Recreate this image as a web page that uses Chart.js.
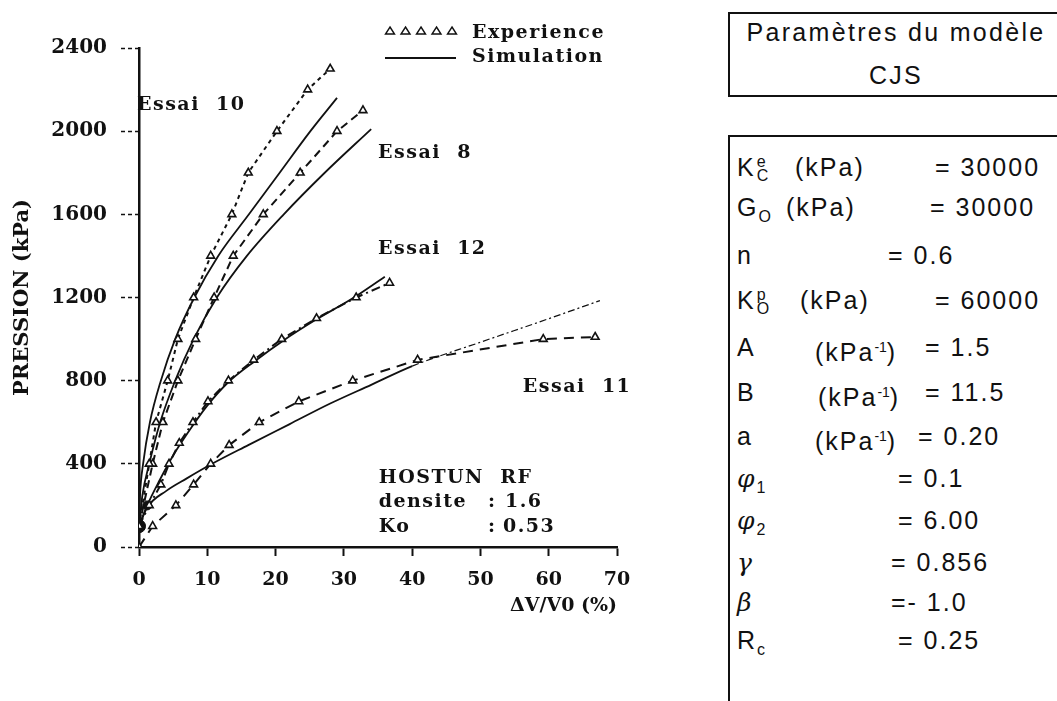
<!DOCTYPE html>
<html>
<head>
<meta charset="utf-8">
<script src="https://cdn.jsdelivr.net/npm/chart.js@4.4.1/dist/chart.umd.min.js"></script>
<style>
  body { margin: 0; background: #fff; width: 1057px; height: 701px; overflow: hidden; position: relative; }
  #wrap { position: absolute; left: 0; top: 0; width: 660px; height: 701px; }
  .box { position: absolute; border: 2px solid #111; font-family: "Liberation Sans", Arial, sans-serif; color: #111; }
  #titleBox { left: 728px; top: 12px; width: 340px; height: 81px; border-right: none; }
  #titleBox div { position: absolute; left: 0; width: 332px; text-align: center; font-size: 25px; letter-spacing: 2.3px; }
  #paramBox { left: 728px; top: 135px; width: 340px; height: 580px; border-right: none; border-bottom: none; }
  .cell { position: absolute; font-size: 25px; letter-spacing: 2px; line-height: 28px; white-space: nowrap; font-family: "Liberation Sans", Arial, sans-serif; color: #111; }
  .ss { display: inline-flex; flex-direction: column; vertical-align: middle; font-size: 16px; line-height: 14px; margin-left: 1px; letter-spacing: 0; }
  sup.u { font-size: 14px; letter-spacing: 0; vertical-align: 9px; }
  sub.g { font-size: 16px; letter-spacing: 0; vertical-align: -6px; }
  .gr { font-family: "DejaVu Serif", serif; font-style: italic; }
</style>
</head>
<body>
<div id="wrap"><canvas id="chart" width="660" height="701"></canvas></div>
<div id="titleBox" class="box">
  <div style="top: 4px;">Paramètres du modèle</div>
  <div style="top: 47px;">CJS</div>
</div>
<div id="paramBox" class="box"></div>
<div id="params"></div>
<script>
// essai 10
const exp10X = [0, 1.5, 2.5, 4.2, 5.7, 8, 10.5, 13.6, 16, 20.2, 24.7, 28];
const exp10Y = [100, 400, 600, 800, 1000, 1200, 1400, 1600, 1800, 2000, 2200, 2300];
const sim10X = [0, 0.15, 0.6, 1.6, 3.2, 5.3, 8.1, 11.6, 16.1, 20.6, 25.1, 29];
const sim10Y = [100, 250, 400, 600, 800, 1000, 1200, 1400, 1600, 1800, 2000, 2160];
// essai 8
const exp8X = [0, 2, 3.5, 5.7, 8.3, 11, 13.8, 18.2, 23.6, 29, 32.8];
const exp8Y = [100, 400, 600, 800, 1000, 1200, 1400, 1600, 1800, 2000, 2100];
const sim8X = [0, 0.5, 1.5, 3.1, 5.3, 8, 11.4, 15.8, 21.2, 27.2, 34];
const sim8Y = [100, 250, 400, 600, 800, 1000, 1200, 1400, 1600, 1800, 2010];
// essai 12
const exp12X = [0, 1.5, 3.2, 4.4, 5.9, 7.9, 10.1, 13.1, 16.8, 20.9, 26, 31.8, 36.7];
const exp12Y = [100, 200, 300, 400, 500, 600, 700, 800, 900, 1000, 1100, 1200, 1270];
const sim12X = [0, 1.2, 3, 5, 8, 10, 13, 17, 21, 26, 31, 36];
const sim12Y = [100, 200, 320, 440, 590, 680, 790, 895, 990, 1095, 1190, 1300];
// essai 11
const exp11X = [0, 2, 5.4, 8, 10.5, 13.2, 17.6, 23.4, 31.3, 40.8, 59.2, 66.8];
const exp11Y = [0, 100, 200, 300, 400, 490, 600, 700, 800, 900, 1000, 1010];
const sim11X = [0, 1.2, 4, 7, 10.7, 16, 22, 28, 34, 40, 50, 60, 67.5];
const sim11Y = [100, 190, 270, 330, 400, 490, 590, 690, 780, 870, 985, 1098, 1185];
// starting state (filled dots)
const startX = [0, 1.2];
const startY = [100, 200];

const xTickValues = [0, 10, 20, 30, 40, 50, 60, 70];
const yTickValues = [0, 400, 800, 1200, 1600, 2000, 2400];

const pts = (xs, ys) => xs.map((v, i) => ({ x: v, y: ys[i] }));

const serif = '"DejaVu Serif", serif';

function expSet(xs, ys, dash) {
  return {
    data: pts(xs, ys), showLine: true, borderColor: '#111', borderWidth: 2,
    borderDash: dash, pointStyle: 'triangle', pointRadius: 4.5,
    pointBackgroundColor: '#fff', pointBorderColor: '#111', pointBorderWidth: 1.6
  };
}
function simSet(xs, ys) {
  return {
    data: pts(xs, ys), showLine: true, borderColor: '#111', borderWidth: 1.8,
    pointRadius: 0, cubicInterpolationMode: 'monotone'
  };
}

const sim11 = simSet(sim11X, sim11Y);
sim11.segment = {
  borderDash: c => c.p0.parsed.x >= 40 ? [7, 3, 2, 3] : undefined,
  borderWidth: c => c.p0.parsed.x >= 40 ? 1.2 : 1.8
};

// annotations in data units
const notes = [
  { text: 'Essai  10', x: -0.3, y: 2125 },
  { text: 'Essai  8', x: 35, y: 1894 },
  { text: 'Essai  12', x: 35, y: 1434 },
  { text: 'Essai  11', x: 56.2, y: 767 },
  { text: 'HOSTUN  RF', x: 35.1, y: 331 },
  { text: 'densite', x: 35.1, y: 216 },
  { text: ':', x: 51.1, y: 216 },
  { text: '1.6', x: 53.6, y: 216 },
  { text: 'Ko', x: 35.1, y: 96 },
  { text: ':', x: 51.1, y: 96 },
  { text: '0.53', x: 53.3, y: 96 }
];

const annot = {
  id: 'annot',
  afterDraw(chart) {
    const { ctx, scales: { x, y } } = chart;
    ctx.save();
    ctx.fillStyle = '#111';
    ctx.font = 'bold 19px ' + serif;
    ctx.textBaseline = 'middle';
    ctx.textAlign = 'left';
    ctx.letterSpacing = '1.5px';
    notes.forEach(n => ctx.fillText(n.text, x.getPixelForValue(n.x), y.getPixelForValue(n.y)));
    // legend
    ctx.fillText('Experience', 472, 33);
    ctx.fillText('Simulation', 472, 57);
    ctx.strokeStyle = '#111';
    ctx.lineWidth = 1.4;
    for (let i = 0; i < 5; i++) {
      const cx = 390 + i * 15.5, cy = 31;
      ctx.beginPath();
      ctx.moveTo(cx, cy - 4); ctx.lineTo(cx + 4.5, cy + 3); ctx.lineTo(cx - 4.5, cy + 3); ctx.closePath();
      ctx.stroke();
    }
    ctx.lineWidth = 2;
    ctx.beginPath(); ctx.moveTo(385, 58); ctx.lineTo(456, 58); ctx.stroke();
    ctx.restore();
  }
};

new Chart(document.getElementById('chart'), {
  type: 'scatter',
  data: {
    datasets: [
      expSet(exp10X, exp10Y, [4, 4]),
      simSet(sim10X, sim10Y),
      expSet(exp8X, exp8Y, [8, 5]),
      simSet(sim8X, sim8Y),
      expSet(exp12X, exp12Y, [9, 4, 2, 4]),
      simSet(sim12X, sim12Y),
      expSet(exp11X, exp11Y, [10, 7]),
      sim11,
      { data: pts(startX, startY), pointRadius: [6.5, 4.5], pointBackgroundColor: '#111', pointBorderColor: '#111', showLine: false }
    ]
  },
  options: {
    responsive: false,
    animation: false,
    devicePixelRatio: 1,
    layout: { padding: { top: 48, right: 43, left: 0, bottom: 0 } },
    plugins: { legend: { display: false }, tooltip: { enabled: false } },
    scales: {
      x: {
        type: 'linear', min: 0, max: 70,
        afterBuildTicks: s => { s.ticks = xTickValues.map(v => ({ value: v })); },
        afterFit: s => { s.height = 154; },
        grid: { drawOnChartArea: false, tickLength: 9, tickColor: '#111', tickWidth: 2 },
        border: { color: '#111', width: 2.5 },
        ticks: { color: '#111', font: { family: serif, size: 19, weight: 'bold' }, padding: 13, maxRotation: 0, callback: v => String(v) },
        title: { display: true, text: 'ΔV/V0 (%)', align: 'end', color: '#111', font: { family: serif, size: 19, weight: 'bold' }, padding: { top: 0, bottom: 84 } }
      },
      y: {
        type: 'linear', min: 0, max: 2400,
        afterBuildTicks: s => { s.ticks = yTickValues.map(v => ({ value: v })); },
        afterFit: s => { s.width = 139; },
        grid: { drawOnChartArea: false, tickLength: 18, tickColor: '#111', tickWidth: 1.3, tickBorderDash: [4, 3] },
        border: { color: '#111', width: 2.5 },
        ticks: { color: '#111', font: { family: serif, size: 20, weight: 'bold' }, padding: 14, callback: v => String(v) },
        title: { display: true, text: 'PRESSION (kPa)', color: '#111', font: { family: serif, size: 21, weight: 'bold' }, padding: { top: 10, bottom: 0 } }
      }
    }
  },
  plugins: [annot]
});

// parameter panel
const paramSyms = ['K<span class="ss"><span>e</span><span>C</span></span>', 'G<sub class="g">O</sub>', 'n',
  'K<span class="ss"><span>p</span><span>O</span></span>', 'A', 'B', 'a',
  '<span class="gr">φ</span><sub class="g">1</sub>', '<span class="gr">φ</span><sub class="g">2</sub>',
  '<span class="gr">γ</span>', '<span class="gr">β</span>', 'R<sub class="g">c</sub>'];
const paramUnits = ['(kPa)', '(kPa)', '', '(kPa)', '(kPa<sup class="u">-1</sup>)', '(kPa<sup class="u">-1</sup>)', '(kPa<sup class="u">-1</sup>)', '', '', '', '', ''];
const paramVals = ['= 30000', '= 30000', '= 0.6', '= 60000', '= 1.5', '= 11.5', '= 0.20', '= 0.1', '= 6.00', '= 0.856', '=- 1.0', '= 0.25'];
const rowY = [167, 207, 255, 300, 347, 392, 436, 478, 520, 562, 602, 640];
const unitX = [795, 786, 0, 800, 815, 818, 815, 0, 0, 0, 0, 0];
const valX = [935, 930, 888, 935, 925, 925, 918, 898, 898, 891, 891, 898];

const holder = document.getElementById('params');
paramVals.forEach((v, i) => {
  const top = rowY[i] - 14;
  let html = `<div class="cell" style="left:737px;top:${top}px">${paramSyms[i]}</div>`;
  if (paramUnits[i]) html += `<div class="cell" style="left:${unitX[i]}px;top:${top}px">${paramUnits[i]}</div>`;
  html += `<div class="cell" style="left:${valX[i]}px;top:${top}px">${v}</div>`;
  holder.insertAdjacentHTML('beforeend', html);
});
</script>
</body>
</html>
